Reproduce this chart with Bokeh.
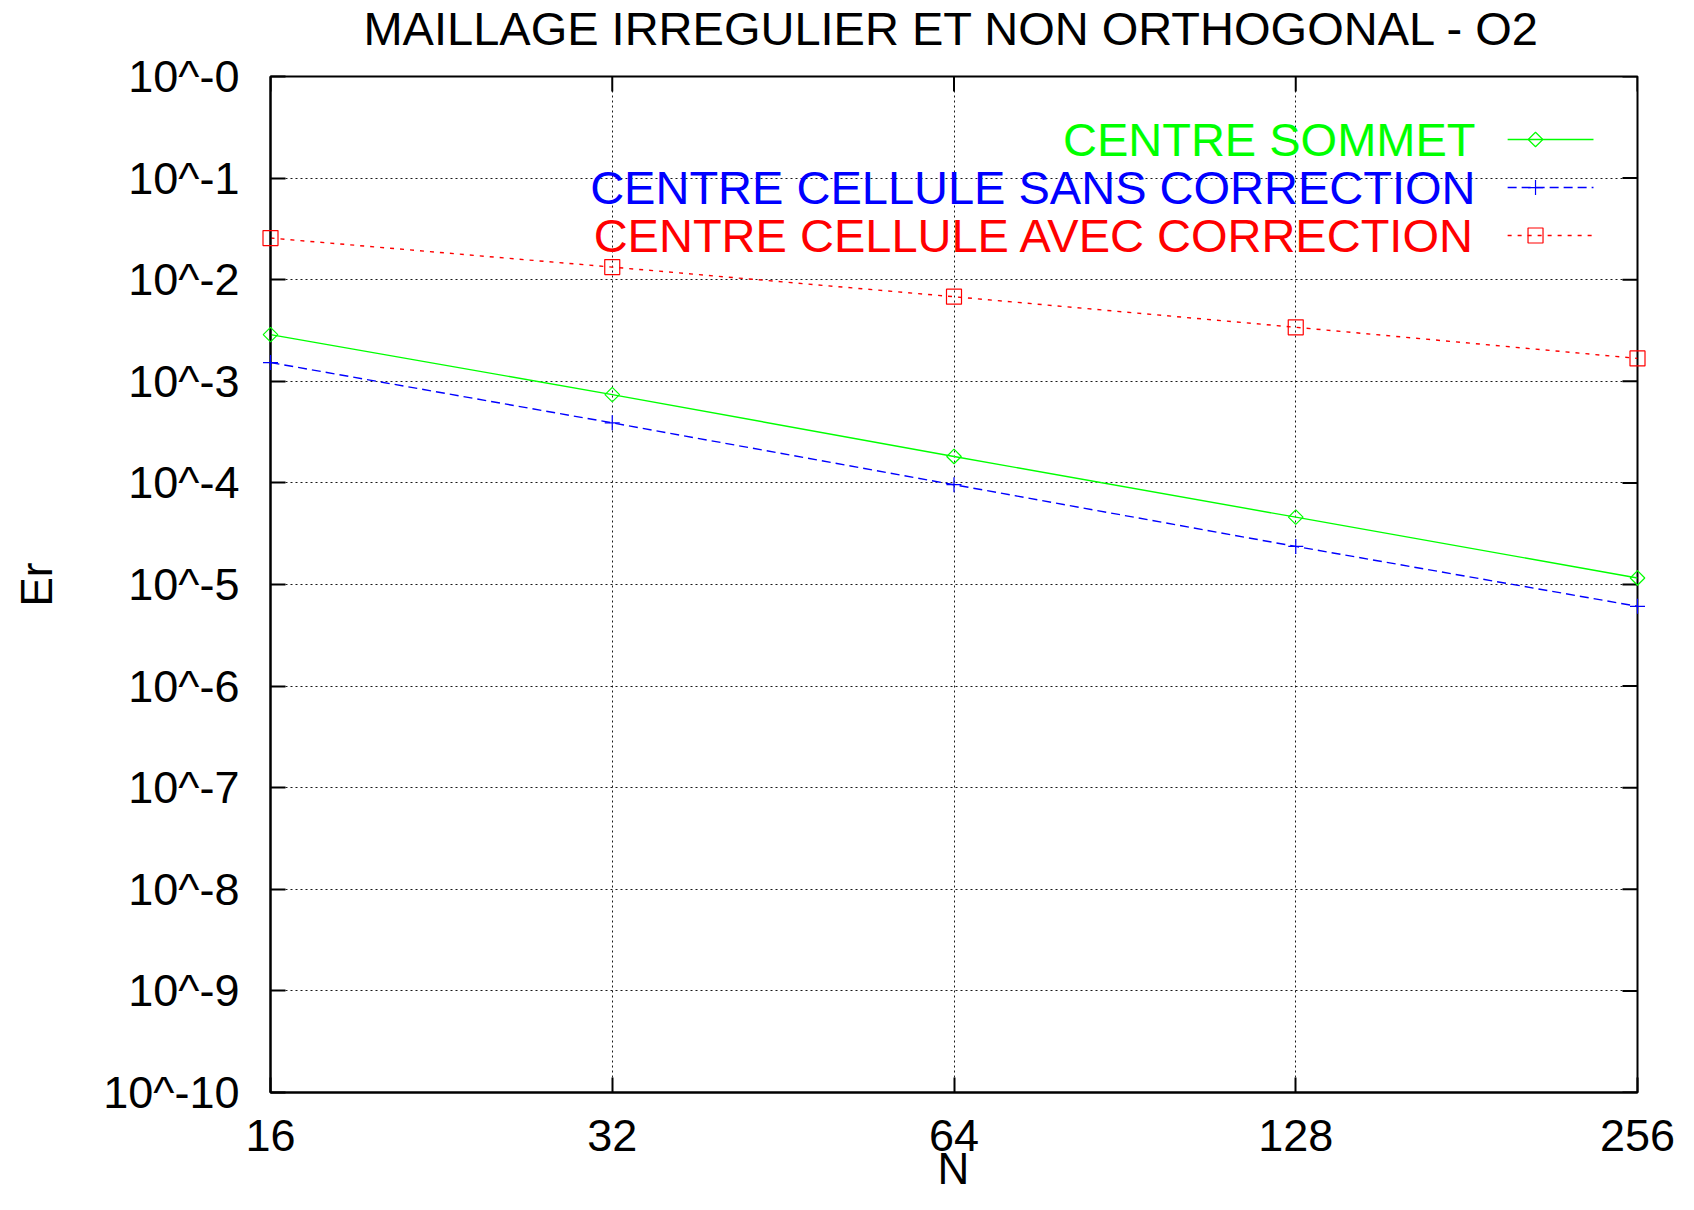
import numpy as np
from bokeh.plotting import figure
from bokeh.models import FixedTicker, CustomJSTickFormatter
from bokeh.core.properties import value
from bokeh.embed import file_html
from bokeh.resources import INLINE

# ---- data ----
N = [16, 32, 64, 128, 256]
centre_sommet = [2.88e-3, 7.4e-4, 1.82e-4, 4.6e-5, 1.16e-5]
sans_correction = [1.53e-3, 3.9e-4, 9.6e-5, 2.37e-5, 6.1e-6]
avec_correction = [2.57e-2, 1.33e-2, 6.8e-3, 3.4e-3, 1.68e-3]

x_ticks = [16, 32, 64, 128, 256]
y_ticks = [10.0 ** (-k) for k in range(0, 11)]

title_text = "MAILLAGE IRREGULIER ET NON ORTHOGONAL - O2"
x_label = "N"
y_label = "Er"
labels = ["CENTRE SOMMET", "CENTRE CELLULE SANS CORRECTION", "CENTRE CELLULE AVEC CORRECTION"]
colors = ["#00ff00", "#0000ff", "#ff0000"]

FONT = "Liberation Sans"

XMIN, XMAX = 16, 256
YMIN, YMAX = 1e-10, 1.0

p = figure(width=1678, height=1194, x_axis_type="log", y_axis_type="log",
           x_range=(XMIN, XMAX), y_range=(YMIN, YMAX), title=None,
           output_backend="svg", toolbar_location=None,
           min_border_left=270, min_border_right=41, min_border_top=76, min_border_bottom=102)

p.outline_line_color = "black"
p.outline_line_width = 2
p.background_fill_color = "white"
p.border_fill_color = "white"

for ax in (p.xaxis[0], p.yaxis[0]):
    ax.axis_line_color = "black"
    ax.axis_line_width = 2
    ax.major_tick_in = 15
    ax.major_tick_out = 0
    ax.major_tick_line_width = 2
    ax.minor_tick_line_color = None
    ax.major_label_text_font = FONT
    ax.major_label_text_font_size = "45px"
    ax.major_label_text_color = "black"
    ax.axis_label_text_font = FONT
    ax.axis_label_text_font_size = "44px"
    ax.axis_label_text_font_style = "normal"
    ax.axis_label_text_color = "black"

p.xaxis[0].ticker = FixedTicker(ticks=x_ticks)
p.xaxis[0].formatter = CustomJSTickFormatter(code="return String(Math.round(tick));")
p.xaxis[0].major_label_standoff = 27

p.yaxis[0].ticker = FixedTicker(ticks=y_ticks)
p.yaxis[0].formatter = CustomJSTickFormatter(code="return '10^-' + String(Math.round(-Math.log10(tick)));")
p.yaxis[0].axis_label = y_label
p.yaxis[0].major_label_standoff = 31
p.yaxis[0].axis_label_standoff = 39

p.xgrid.ticker = FixedTicker(ticks=x_ticks)
p.ygrid.ticker = FixedTicker(ticks=y_ticks)
for g in (p.xgrid[0], p.ygrid[0]):
    g.grid_line_color = "black"
    g.grid_line_dash = "2 3"
    g.grid_line_width = 1
    g.grid_line_alpha = 0.9

# mirrored ticks on the right and top borders (clipped half of a 30px dash = 15px inward tick)
p.scatter([XMAX] * len(y_ticks), y_ticks, marker="dash", size=30, line_color="black", line_width=2)
p.scatter(x_ticks, [YMAX] * len(x_ticks), marker="dash", angle=np.pi / 2, size=30,
          line_color="black", line_width=2)

# ---- series ----
p.line(N, centre_sommet, line_color=colors[0], line_width=1.4)
p.line(N, sans_correction, line_color=colors[1], line_width=1.4, line_dash="9 5")
p.line(N, avec_correction, line_color=colors[2], line_width=1.4, line_dash="4 6")

p.scatter(N, centre_sommet, marker="square", angle=np.pi / 4, size=10.3,
          fill_color=None, line_color=colors[0], line_width=1.2, level="overlay")
p.scatter(N, sans_correction, marker="cross", size=15, line_color=colors[1], line_width=1.2,
          level="overlay")
p.scatter(N, avec_correction, marker="square", size=15,
          fill_color=None, line_color=colors[2], line_width=1.2, level="overlay")

# ---- helpers: positions as fractions of the frame ----
def xdata(frac):
    return 10 ** (np.log10(XMIN) + frac * (np.log10(XMAX) - np.log10(XMIN)))

def ydata(frac_from_top):
    return 10 ** (np.log10(YMAX) - frac_from_top * (np.log10(YMAX) - np.log10(YMIN)))

# title and x-axis label (gnuplot placement)
p.text(x=[xdata(0.4985)], y=[ydata(-0.0477)], text=[title_text], text_align="center",
       text_baseline="middle", text_font=value(FONT), text_font_size="47px",
       text_color="black", level="overlay")
p.text(x=[xdata(0.4995)], y=[ydata(1.0748)], text=[x_label], text_align="center",
       text_baseline="middle", text_font=value(FONT), text_font_size="44px",
       text_color="black", level="overlay")

# ---- legend (gnuplot style: label left, sample right) ----
leg_rows = [0.062, 0.1093, 0.1565]
text_x = xdata(0.8815)
line_x0, line_x1 = xdata(0.905), xdata(0.9678)
mark_x = xdata(0.9254)
dashes = ["solid", "9 5", "4 6"]
markers = [("square", np.pi / 4, 10.3), ("cross", 0, 15), ("square", 0, 15)]

for i, lab in enumerate(labels):
    yy = ydata(leg_rows[i])
    p.text(x=[text_x], y=[yy], text=[lab], text_align="right", text_baseline="middle",
           text_font=value(FONT), text_font_size="47px", text_color=colors[i])
    p.line([line_x0, line_x1], [yy, yy], line_color=colors[i], line_width=1.4, line_dash=dashes[i])
    m, ang, sz = markers[i]
    p.scatter([mark_x], [yy], marker=m, angle=ang, size=sz, fill_color=None,
              line_color=colors[i], line_width=1.2)

open("out.html", "w").write(file_html(p, INLINE))
